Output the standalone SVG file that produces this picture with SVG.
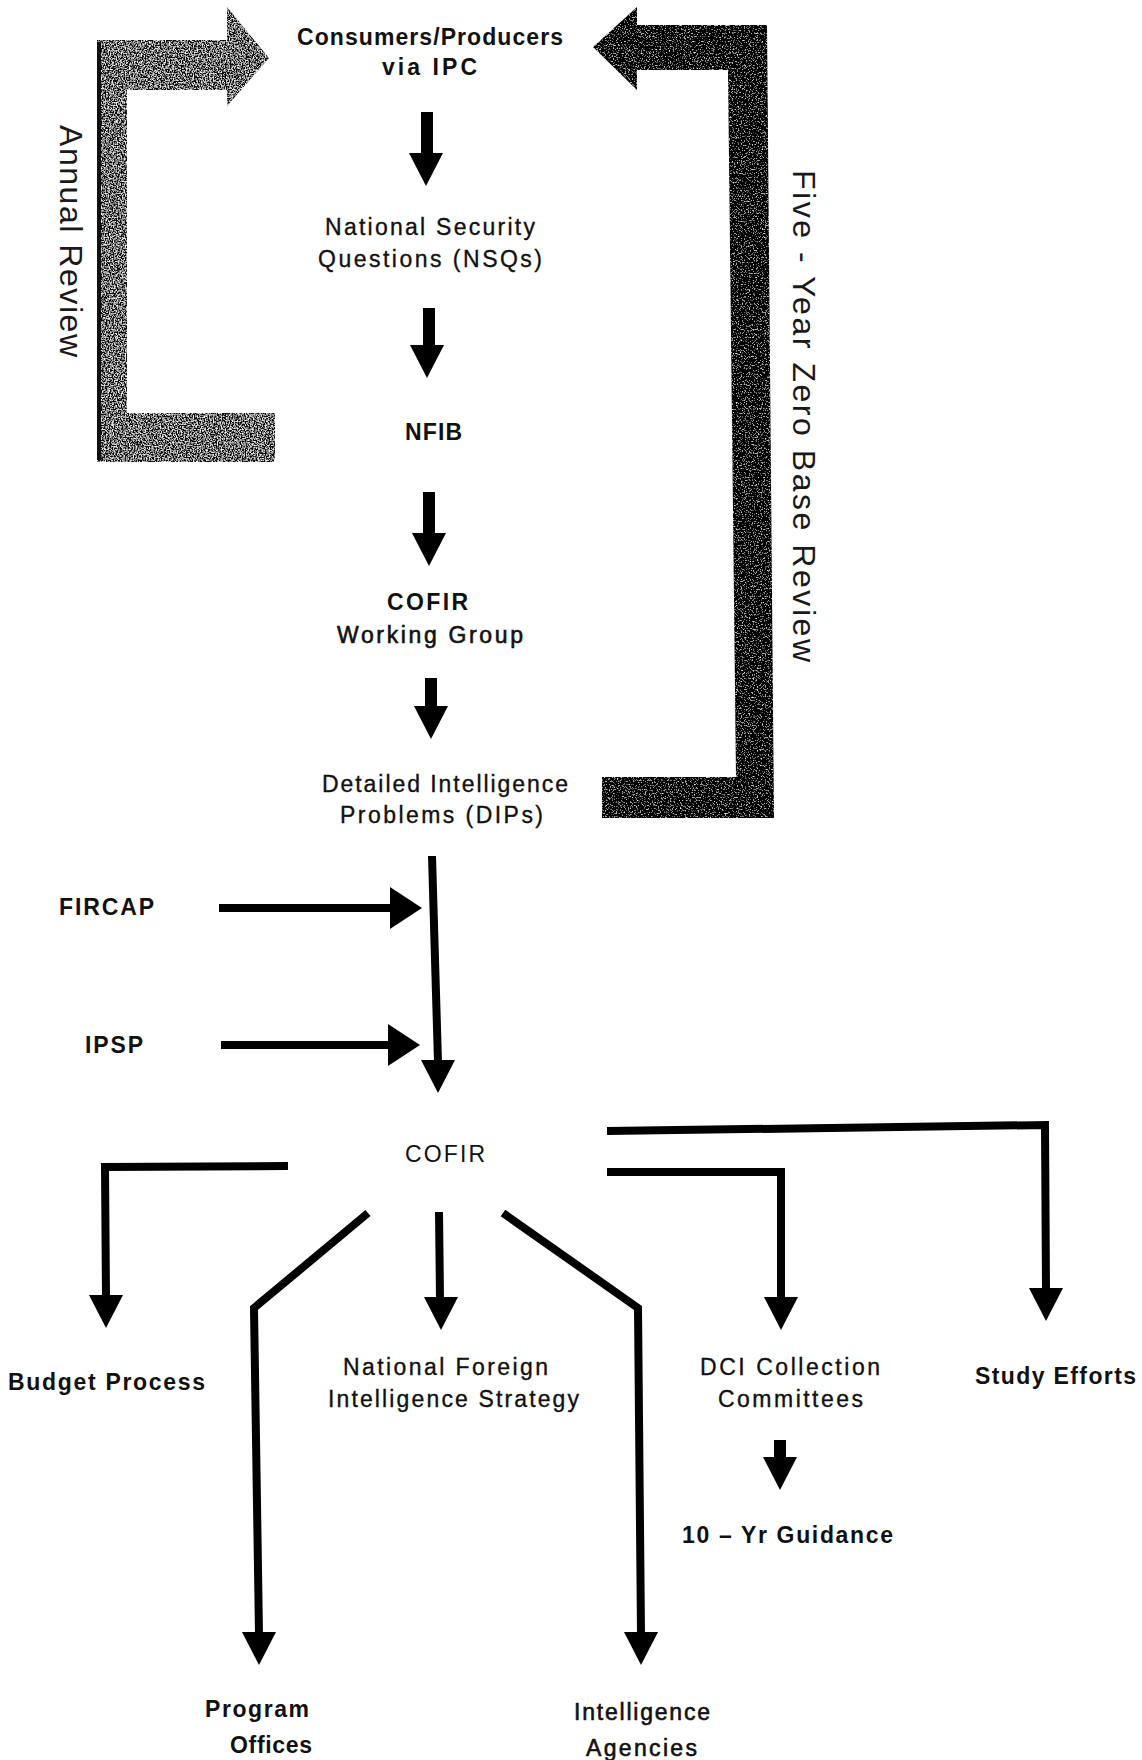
<svg xmlns="http://www.w3.org/2000/svg" xmlns:xlink="http://www.w3.org/1999/xlink" width="1142" height="1760" viewBox="0 0 1142 1760">
<style>
  .t { font-family: "Liberation Sans", Arial, Helvetica, sans-serif; fill: #111; font-size: 23px; }
  .b { font-weight: bold; }
  .m { stroke: #111; stroke-width: 0.35px; }
  .v { font-size: 32px; fill: #1a1a1a; }
  .ln { fill: none; stroke: #000; stroke-width: 8; stroke-linejoin: miter; stroke-linecap: butt; }
  .sh { fill: none; stroke: #000; stroke-width: 12; }
  .hd { fill: #000; }
</style>
<defs>
  <path id="ah" d="M-17,0 L17,0 L0,33 Z"/>
  <path id="ahr" d="M0,-21 L0,21 L32,0 Z"/>
  <filter id="grainDark" x="0" y="0" width="100%" height="100%">
    <feTurbulence type="fractalNoise" baseFrequency="0.75" numOctaves="3" seed="7" result="noise"/>
    <feColorMatrix in="noise" type="matrix" values="0 0 0 0 1  0 0 0 0 1  0 0 0 0 1  -3 0 0 0 1.3" result="speck"/>
    <feComposite in="speck" in2="SourceGraphic" operator="in" result="clip"/>
    <feMerge><feMergeNode in="SourceGraphic"/><feMergeNode in="clip"/></feMerge>
  </filter>
  <filter id="grainLight" x="0" y="0" width="100%" height="100%">
    <feTurbulence type="fractalNoise" baseFrequency="0.75" numOctaves="3" seed="3" result="noise"/>
    <feColorMatrix in="noise" type="matrix" values="0 0 0 0 1  0 0 0 0 1  0 0 0 0 1  -3 0 0 0 1.68" result="speck"/>
    <feComposite in="speck" in2="SourceGraphic" operator="in" result="clip"/>
    <feMerge><feMergeNode in="SourceGraphic"/><feMergeNode in="clip"/></feMerge>
  </filter>
</defs>
<rect x="0" y="0" width="1142" height="1760" fill="#fff"/>

<g id="connectors">
  <!-- feedback brackets -->
  <g id="annual-review">
    <polygon points="97,40 227,40 227,7 269,58 227,106 227,90 127,90 127,413 275,413 275,462 97,462" fill="#111" filter="url(#grainLight)"/>
    <line x1="99" y1="42" x2="99" y2="460" stroke="#111" stroke-width="4"/>
    <text class="t v" transform="translate(60,125) rotate(90)" x="0" y="0" textLength="232" lengthAdjust="spacing">Annual Review</text>
  </g>
  <g id="five-year-review">
    <polygon points="593,47 637,7 637,25 767,25 774,818 602,818 602,777 736,777 728,70 637,70 637,90" fill="#000" filter="url(#grainDark)"/>
    <text class="t v" transform="translate(793,170) rotate(90)" x="0" y="0" textLength="492" lengthAdjust="spacing">Five - Year Zero Base Review</text>
  </g>

  <!-- main column -->
  <line class="sh" x1="427" y1="112" x2="427" y2="155"/>
  <use xlink:href="#ah" href="#ah" class="hd" x="426" y="153"/>
  <line class="sh" x1="429" y1="308" x2="429" y2="345"/>
  <use xlink:href="#ah" href="#ah" class="hd" x="427" y="345"/>
  <line class="sh" x1="429" y1="492" x2="429" y2="535"/>
  <use xlink:href="#ah" href="#ah" class="hd" x="429" y="533"/>
  <line class="sh" x1="431" y1="678" x2="431" y2="709"/>
  <use xlink:href="#ah" href="#ah" class="hd" x="431" y="706"/>

  <!-- DIPs to COFIR -->
  <line class="ln" x1="432" y1="856" x2="438" y2="1062"/>
  <use xlink:href="#ah" href="#ah" class="hd" x="438" y="1060"/>
  <!-- FIRCAP, IPSP -->
  <line class="ln" x1="219" y1="908" x2="392" y2="908"/>
  <use xlink:href="#ahr" href="#ahr" class="hd" x="390" y="908"/>
  <line class="ln" x1="221" y1="1045" x2="390" y2="1045"/>
  <use xlink:href="#ahr" href="#ahr" class="hd" x="388" y="1045"/>

  <!-- COFIR fan-out -->
  <polyline class="ln" points="288,1166 105,1167 106,1298"/>
  <use xlink:href="#ah" href="#ah" class="hd" x="106" y="1295"/>
  <polyline class="ln" points="368,1213 254,1308 259,1634"/>
  <use xlink:href="#ah" href="#ah" class="hd" x="259" y="1632"/>
  <line class="ln" x1="439" y1="1212" x2="440" y2="1299"/>
  <use xlink:href="#ah" href="#ah" class="hd" x="441" y="1297"/>
  <polyline class="ln" points="503,1213 638,1308 641,1634"/>
  <use xlink:href="#ah" href="#ah" class="hd" x="641" y="1632"/>
  <polyline class="ln" points="607,1172 781,1172 781,1299"/>
  <use xlink:href="#ah" href="#ah" class="hd" x="781" y="1297"/>
  <polyline class="ln" points="607,1131 1045,1125 1046,1290"/>
  <use xlink:href="#ah" href="#ah" class="hd" x="1046" y="1288"/>
  <!-- DCI to 10-Yr -->
  <line class="sh" x1="780" y1="1440" x2="780" y2="1460"/>
  <use xlink:href="#ah" href="#ah" class="hd" x="780" y="1457"/>
</g>

<g id="node-consumers">
  <text class="t b" x="297" y="45" textLength="266" lengthAdjust="spacing">Consumers/Producers</text>
  <text class="t b" x="382" y="75" textLength="95" lengthAdjust="spacing">via IPC</text>
</g>
<g id="node-nsq">
  <text class="t m" x="325" y="235" textLength="210" lengthAdjust="spacing">National Security</text>
  <text class="t m" x="318" y="267" textLength="224" lengthAdjust="spacing">Questions (NSQs)</text>
</g>
<g id="node-nfib">
  <text class="t b" x="405" y="440" textLength="57" lengthAdjust="spacing">NFIB</text>
</g>
<g id="node-cofir-wg">
  <text class="t b" x="387" y="610" textLength="81" lengthAdjust="spacing">COFIR</text>
  <text class="t m" x="337" y="643" textLength="186" lengthAdjust="spacing" style="stroke-width:0.6px">Working Group</text>
</g>
<g id="node-dips">
  <text class="t m" x="322" y="792" textLength="246" lengthAdjust="spacing">Detailed Intelligence</text>
  <text class="t m" x="340" y="823" textLength="203" lengthAdjust="spacing">Problems (DIPs)</text>
</g>
<g id="node-fircap">
  <text class="t b" x="59" y="915" textLength="95" lengthAdjust="spacing">FIRCAP</text>
</g>
<g id="node-ipsp">
  <text class="t b" x="85" y="1053" textLength="58" lengthAdjust="spacing">IPSP</text>
</g>
<g id="node-cofir">
  <text class="t" x="405" y="1162" textLength="80" lengthAdjust="spacing">COFIR</text>
</g>
<g id="node-budget">
  <text class="t b" x="8" y="1390" textLength="197" lengthAdjust="spacing">Budget Process</text>
</g>
<g id="node-nfis">
  <text class="t m" x="343" y="1375" textLength="205" lengthAdjust="spacing">National Foreign</text>
  <text class="t m" x="328" y="1407" textLength="251" lengthAdjust="spacing">Intelligence Strategy</text>
</g>
<g id="node-dci">
  <text class="t m" x="700" y="1375" textLength="180" lengthAdjust="spacing">DCI Collection</text>
  <text class="t m" x="718" y="1407" textLength="145" lengthAdjust="spacing">Committees</text>
</g>
<g id="node-study">
  <text class="t b" x="975" y="1384" textLength="161" lengthAdjust="spacing">Study Efforts</text>
</g>
<g id="node-guidance">
  <text class="t b" x="682" y="1543" textLength="211" lengthAdjust="spacing">10 – Yr Guidance</text>
</g>
<g id="node-program">
  <text class="t b" x="205" y="1717" textLength="104" lengthAdjust="spacing">Program</text>
  <text class="t b" x="230" y="1753" textLength="82" lengthAdjust="spacing">Offices</text>
</g>
<g id="node-agencies">
  <text class="t m" x="574" y="1720" textLength="136" lengthAdjust="spacing" style="stroke-width:0.6px">Intelligence</text>
  <text class="t m" x="586" y="1756" textLength="111" lengthAdjust="spacing" style="stroke-width:0.6px">Agencies</text>
</g>
</svg>
